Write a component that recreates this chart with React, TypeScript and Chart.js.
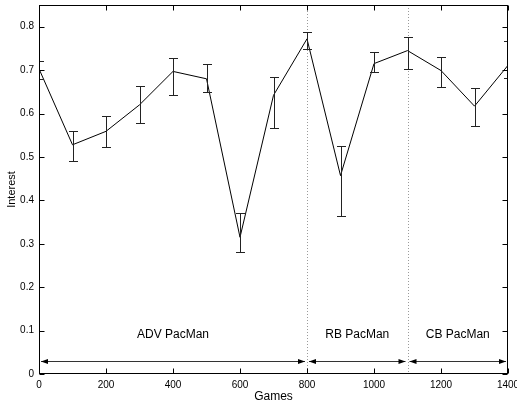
import { useEffect, useRef } from 'react';
import { Chart, registerables } from 'chart.js';

Chart.register(...registerables);

const games = [0, 100, 200, 300, 400, 500, 600, 700, 800, 900, 1000, 1100, 1200, 1300, 1400];
const interest = [0.703, 0.528, 0.559, 0.62, 0.697, 0.68, 0.315, 0.642, 0.772, 0.457, 0.715, 0.745, 0.699, 0.617, 0.711];
const errUpper = [0.722, 0.559, 0.595, 0.663, 0.728, 0.713, 0.372, 0.685, 0.788, 0.526, 0.741, 0.776, 0.73, 0.658, 0.767];
const errLower = [0.679, 0.49, 0.524, 0.579, 0.642, 0.65, 0.281, 0.566, 0.749, 0.363, 0.695, 0.703, 0.66, 0.572, 0.682];

const phaseBounds = [0, 800, 1100, 1400];
const phaseLabels = ['ADV PacMan', 'RB PacMan', 'CB PacMan'];
const phaseLabelX = [400, 950, 1250];
const phaseLabelY = 0.09;
const arrowY = 0.03;
const dividers = [800, 1100];

const xTicks = [0, 200, 400, 600, 800, 1000, 1200, 1400];
const yTicks = [0, 0.1, 0.2, 0.3, 0.4, 0.5, 0.6, 0.7, 0.8];

const FONT = '"Liberation Sans", Arial, Helvetica, sans-serif';

const decorPlugin = {
  id: 'decor',
  beforeDatasetsDraw(chart: any) {
    const { ctx, chartArea: a, scales } = chart;
    const xs = scales.x;
    ctx.save();
    ctx.strokeStyle = '#9a9a9a';
    ctx.lineWidth = 1;
    ctx.setLineDash([1, 2]);
    dividers.forEach((d) => {
      const px = Math.round(xs.getPixelForValue(d)) + 0.5;
      ctx.beginPath();
      ctx.moveTo(px, a.top);
      ctx.lineTo(px, a.bottom);
      ctx.stroke();
    });
    ctx.restore();
  },
  afterDatasetsDraw(chart: any) {
    const { ctx, chartArea: a, scales } = chart;
    const xs = scales.x;
    const ys = scales.y;
    ctx.save();
    ctx.beginPath();
    ctx.rect(a.left, a.top, a.right - a.left, a.bottom - a.top);
    ctx.clip();
    ctx.strokeStyle = '#222';
    ctx.lineWidth = 1;
    games.forEach((g, i) => {
      const px = Math.round(xs.getPixelForValue(g)) + 0.5;
      const yh = Math.round(ys.getPixelForValue(errUpper[i])) + 0.5;
      const yl = Math.round(ys.getPixelForValue(errLower[i])) + 0.5;
      ctx.beginPath();
      ctx.moveTo(px, yh);
      ctx.lineTo(px, yl);
      ctx.moveTo(px - 4.5, yh);
      ctx.lineTo(px + 4.5, yh);
      ctx.moveTo(px - 4.5, yl);
      ctx.lineTo(px + 4.5, yl);
      ctx.stroke();
    });
    ctx.restore();

    ctx.save();
    const ay = Math.round(ys.getPixelForValue(arrowY)) + 0.5;
    ctx.strokeStyle = '#333';
    ctx.fillStyle = '#000';
    ctx.lineWidth = 1;
    for (let i = 0; i < phaseBounds.length - 1; i++) {
      const x1 = xs.getPixelForValue(phaseBounds[i]) + 2;
      const x2 = xs.getPixelForValue(phaseBounds[i + 1]) - 2;
      ctx.beginPath();
      ctx.moveTo(x1, ay);
      ctx.lineTo(x2, ay);
      ctx.stroke();
      ctx.beginPath();
      ctx.moveTo(x1, ay);
      ctx.lineTo(x1 + 7, ay - 2.5);
      ctx.lineTo(x1 + 7, ay + 2.5);
      ctx.closePath();
      ctx.fill();
      ctx.beginPath();
      ctx.moveTo(x2, ay);
      ctx.lineTo(x2 - 7, ay - 2.5);
      ctx.lineTo(x2 - 7, ay + 2.5);
      ctx.closePath();
      ctx.fill();
    }
    ctx.font = '12px ' + FONT;
    ctx.fillStyle = '#000';
    ctx.textAlign = 'center';
    ctx.textBaseline = 'middle';
    phaseLabels.forEach((t, i) => {
      ctx.fillText(t, xs.getPixelForValue(phaseLabelX[i]), ys.getPixelForValue(phaseLabelY));
    });
    ctx.strokeStyle = '#000';
    ctx.lineWidth = 1;
    const L = Math.round(a.left) + 0.5;
    const R = Math.round(a.right) - 0.5;
    const T = Math.round(a.top) + 0.5;
    const B = Math.round(a.bottom) - 0.5;
    ctx.strokeRect(L, T, R - L, B - T);
    ctx.beginPath();
    xTicks.forEach((v) => {
      const px = Math.round(xs.getPixelForValue(v)) + 0.5;
      ctx.moveTo(px, B);
      ctx.lineTo(px, B - 5);
      ctx.moveTo(px, T);
      ctx.lineTo(px, T + 5);
    });
    yTicks.forEach((v) => {
      const py = Math.round(ys.getPixelForValue(v)) + 0.5;
      ctx.moveTo(L, py);
      ctx.lineTo(L + 5, py);
      ctx.moveTo(R, py);
      ctx.lineTo(R - 5, py);
    });
    ctx.stroke();
    ctx.restore();
  },
};

export default function App() {
  const ref = useRef<HTMLCanvasElement | null>(null);

  useEffect(() => {
    if (!ref.current) return;
    Chart.defaults.font.family = FONT;
    const chart = new Chart(ref.current, {
      type: 'line',
      data: {
        datasets: [
          {
            data: games.map((g, i) => ({ x: g, y: interest[i] })),
            borderColor: '#000',
            borderWidth: 1,
            pointRadius: 0,
            tension: 0,
            fill: false,
          },
        ],
      },
      options: {
        animation: false,
        responsive: false,
        maintainAspectRatio: false,
        layout: { padding: { top: 5, right: 9, left: 0, bottom: 0 } },
        plugins: {
          legend: { display: false },
          tooltip: { enabled: false },
        },
        scales: {
          x: {
            type: 'linear',
            min: 0,
            max: 1400,
            afterBuildTicks: (s: any) => {
              s.ticks = xTicks.map((v) => ({ value: v }));
            },
            afterFit: (s: any) => {
              s.height = 30;
              s.paddingLeft = 0;
              s.paddingRight = 0;
            },
            grid: { display: false, drawTicks: false },
            border: { display: false },
            ticks: {
              color: '#000',
              font: { size: 10 },
              padding: 5,
              maxRotation: 0,
              autoSkip: false,
              callback: (v: any) => String(v),
            },
            title: {
              display: true,
              text: 'Games',
              color: '#000',
              font: { size: 12 },
              padding: { top: 0, bottom: 0 },
            },
          },
          y: {
            type: 'linear',
            min: 0,
            max: 0.85,
            afterBuildTicks: (s: any) => {
              s.ticks = yTicks.map((v) => ({ value: v }));
            },
            afterFit: (s: any) => {
              s.width = 39;
              s.paddingTop = 0;
              s.paddingBottom = 0;
            },
            grid: { display: false, drawTicks: false },
            border: { display: false },
            ticks: {
              color: '#000',
              font: { size: 10 },
              padding: 5,
              autoSkip: false,
              callback: (v: any) => (v === 0 ? '0' : Number(v).toFixed(1)),
            },
            title: {
              display: true,
              text: 'Interest',
              color: '#000',
              font: { size: 11 },
              padding: { top: 5, bottom: 0 },
            },
          },
        },
      },
      plugins: [decorPlugin],
    });
    return () => chart.destroy();
  }, []);

  return (
    <div style={{ position: 'absolute', left: 0, top: 0, width: 517, height: 404, background: '#fff' }}>
      <canvas ref={ref} width={517} height={404} style={{ display: 'block' }} />
    </div>
  );
}
